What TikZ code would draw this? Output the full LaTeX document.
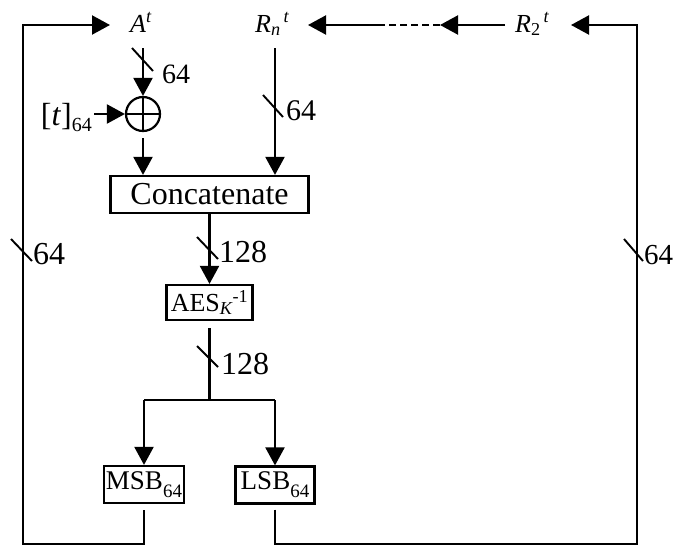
\documentclass[tikz,border=0pt]{standalone}
\usepackage{fontspec}
\setmainfont{Liberation Serif}
\usetikzlibrary{arrows.meta,calc}

\begin{document}
\begin{tikzpicture}[x=1pt,y=-1pt,
  wire/.style={line width=2.2pt},
  arr/.style={wire,-{Triangle[length=18pt,width=19pt]}},
  tick/.style={line width=1.9pt},
  blk/.style={draw,line width=2.2pt,inner sep=0pt,minimum height=37pt,
    font=\fontsize{27}{30}\selectfont},
  lbl/.style={inner sep=0pt,anchor=base west,font=\fontsize{26}{30}\selectfont},
  num/.style={inner sep=0pt,anchor=base west,font=\fontsize{32}{36}\selectfont}]
\useasboundingbox (0,0) rectangle (673,546);

% processing blocks
\node[blk,minimum width=198pt,font=\fontsize{32}{36}\selectfont] (cat) at (209.5,194.5) {Concatenate};
\node[blk,minimum width=86pt,minimum height=35pt,font=\fontsize{26}{30}\selectfont] (aes) at (209.5,302.5)
  {AES\textsubscript{\itshape K}\textsuperscript{-1}};
\node[blk,minimum width=80pt] (msb) at (144,484.5) {MSB\raisebox{-0.3em}{\fontsize{19}{20}\selectfont 64}};
\node[blk,minimum width=79pt] (lsb) at (275,485) {LSB\raisebox{-0.3em}{\fontsize{19}{20}\selectfont 64}};

% xor
\node[draw,circle,line width=2.2pt,minimum size=34pt,inner sep=0pt] (xor) at (143,114) {};
\draw[wire] (xor.north) -- (xor.south) (xor.west) -- (xor.east);

% register labels
\node[lbl] (A) at (130,32) {\itshape A\textsuperscript{t}};
\node[lbl] (Rn) at (255,32) {\itshape R\textsubscript{n}\textsuperscript{\,t}};
\node[lbl] (R2) at (515,32) {\itshape R\textsubscript{\upshape 2}\textsuperscript{\,t}};
\node[inner sep=0pt,anchor=base east,font=\fontsize{32}{36}\selectfont] (tin) at (92,125)
  {[\textit{t}]\raisebox{-0.2em}{\fontsize{20}{22}\selectfont 64}};

% wire end points
\coordinate (a0) at (143,48);
\coordinate (r0) at (275,48);
\coordinate (t0) at (94,114);
\coordinate (sp) at (209.5,400);
\coordinate (ms) at (144,400);
\coordinate (ls) at (275,400);
\coordinate (bl) at (22.7,544);
\coordinate (br) at (637,544);
\coordinate (tl) at (22.7,25);
\coordinate (tr) at (637,25);
\coordinate (inA) at (110,25);
\coordinate (inRn) at (308,25);
\coordinate (inR2) at (571,25);
\coordinate (d0) at (382,25);
\coordinate (d1) at (440,25);
\coordinate (r2w) at (505,25);

% data path
\draw[arr] (a0) -- (xor.north);
\draw[arr] (t0) -- (xor.west);
\draw[arr,shorten <=6pt] (xor.south) -- (cat.north -| xor.south);
\draw[arr] (r0) -- (cat.north -| r0);
\draw[arr] (cat.south) -- (aes.north);
\draw[wire,shorten <=7pt] (aes.south) -- (sp);
\draw[wire] (ms) -- (ls);
\draw[arr] (ms) -- (msb.north);
\draw[arr] (ls) -- (lsb.north);

% feedback loops
\draw[arr,shorten <=6pt] (msb.south) -- (msb.south |- bl) -- (bl) -- (tl) -- (inA);
\draw[arr,shorten <=5pt] (lsb.south) -- (lsb.south |- br) -- (br) -- (tr) -- (inR2);
\draw[arr] (r2w) -- (d1);
\draw[wire,dash pattern=on 7pt off 4pt] (d1) -- (d0);
\draw[arr] (d0) -- (inRn);

% bus width ticks
\draw[tick] ($(a0)+(-11,0)$) -- ++(21,23);
\draw[tick] (263,95) -- ++(20,22);
\draw[tick] (197,237) -- ++(21,22);
\draw[tick] (197,346) -- ++(21,21);
\draw[tick] (11,239) -- ++(21,22);
\draw[tick] (624,239) -- ++(19,22);

% bus widths
\node[num,font=\fontsize{28}{30}\selectfont] (w1) at (162,83) {64};
\node[num,font=\fontsize{30}{32}\selectfont] (w2) at (286,120) {64};
\node[num] (w3) at (219,262) {128};
\node[num] (w4) at (221,374) {128};
\node[num] (w5) at (33,264) {64};
\node[num,font=\fontsize{29}{32}\selectfont] (w6) at (644,264) {64};
\end{tikzpicture}
\end{document}
